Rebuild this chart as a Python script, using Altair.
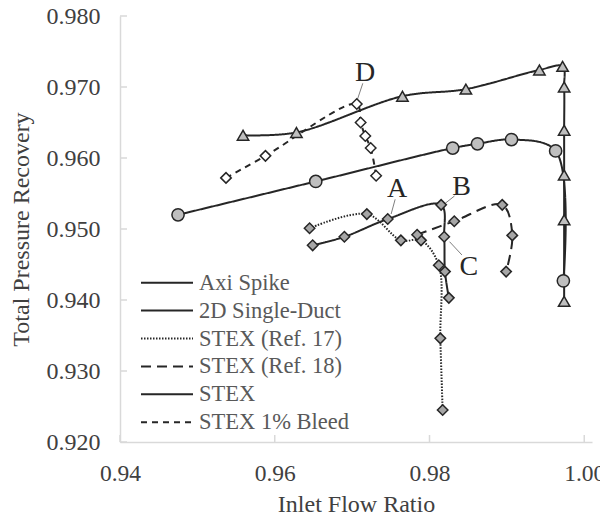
import altair as alt
import pandas as pd

SERIES = ["Axi Spike", "2D Single-Duct", "STEX (Ref. 17)", "STEX (Ref. 18)", "STEX", "STEX 1% Bleed"]

AXI_X = [0.9559, 0.9628, 0.9765, 0.9847, 0.9942, 0.9972, 0.9974, 0.9974, 0.9974, 0.9974, 0.9974]
AXI_Y = [0.9632, 0.9636, 0.9687, 0.9697, 0.9724, 0.9729, 0.9700, 0.9639, 0.9576, 0.9513, 0.9398]

DUCT_X = [0.9475, 0.9653, 0.9830, 0.9862, 0.9906, 0.9963, 0.9973]
DUCT_Y = [0.9520, 0.9567, 0.9614, 0.9620, 0.9626, 0.9610, 0.9427]

REF17_X = [0.9645, 0.9719, 0.9763, 0.9789, 0.9812, 0.9814, 0.9817]
REF17_Y = [0.9501, 0.9521, 0.9484, 0.9484, 0.9449, 0.9346, 0.9245]

REF18_X = [0.9784, 0.9832, 0.9894, 0.9907, 0.9899]
REF18_Y = [0.9492, 0.9511, 0.9534, 0.9491, 0.9440]

STEX_X = [0.9649, 0.9690, 0.9746, 0.9815, 0.9819, 0.9820, 0.9825]
STEX_Y = [0.9477, 0.9489, 0.9514, 0.9534, 0.9489, 0.9440, 0.9403]

BLEED_X = [0.9537, 0.9588, 0.9706, 0.9711, 0.9717, 0.9724, 0.9731]
BLEED_Y = [0.9572, 0.9603, 0.9676, 0.9650, 0.9631, 0.9614, 0.9575]

X_TICKS = [0.94, 0.96, 0.98, 1.00]
Y_TICKS = [0.92, 0.93, 0.94, 0.95, 0.96, 0.97, 0.98]

LABELS = ["A", "B", "C", "D"]
LABEL_X = [0.97582, 0.98416, 0.98507, 0.97168]
LABEL_Y = [0.95451, 0.95479, 0.94352, 0.97089]

LEAD_X1 = [0.97556, 0.98323, 0.98419, 0.97138]
LEAD_Y1 = [0.95418, 0.95465, 0.94634, 0.97052]
LEAD_X2 = [0.97504, 0.98203, 0.98259, 0.97069]
LEAD_Y2 = [0.95211, 0.95362, 0.94821, 0.96827]

WIDTH, HEIGHT = 472, 426
FONT = "Liberation Serif"
INK = "#262626"

# marker key (separate domain so the marker legend is kept apart from the line legend)
MK = ["m " + s for s in SERIES]

rows = []
for name, key, xs_, ys_ in [
    (SERIES[0], MK[0], AXI_X, AXI_Y),
    (SERIES[1], MK[1], DUCT_X, DUCT_Y),
    (SERIES[2], MK[2], REF17_X, REF17_Y),
    (SERIES[3], MK[3], REF18_X, REF18_Y),
    (SERIES[4], MK[4], STEX_X, STEX_Y),
    (SERIES[5], MK[5], BLEED_X, BLEED_Y),
]:
    for i, (xv, yv) in enumerate(zip(xs_, ys_)):
        rows.append({"series": name, "mk": key, "idx": i, "x": xv, "y": yv})
df = pd.DataFrame(rows)

ann = pd.DataFrame({"label": LABELS, "x": LABEL_X, "y": LABEL_Y})
lead = pd.DataFrame({"x": LEAD_X1, "y": LEAD_Y1, "x2": LEAD_X2, "y2": LEAD_Y2})
xt = pd.DataFrame({"x": X_TICKS})
yt = pd.DataFrame({"y": Y_TICKS})

FILLS = ["#bfbfbf", "#bfbfbf", "#a6a6a6", "#a6a6a6", "#a6a6a6", "#ffffff"]
DASHES = [[1, 0], [1, 0], [1.5, 1.5], [10, 6], [1, 0], [6, 5]]
SHAPES = ["triangle-up", "circle", "diamond", "diamond", "diamond", "diamond"]
SIZES = [130, 150, 110, 110, 110, 110]

xs = alt.Scale(domain=[0.94, 1.001], nice=False, zero=False)
ys = alt.Scale(domain=[0.92, 0.98], nice=False, zero=False)

X = alt.X("x:Q", scale=xs, title="Inlet Flow Ratio",
          axis=alt.Axis(values=X_TICKS, format=".2f", labelPadding=19, titlePadding=8,
                        labelFlush=False, labelFontSize=23.5))
Y = alt.Y("y:Q", scale=ys, title="Total Pressure Recovery",
          axis=alt.Axis(values=Y_TICKS, format=".3f", labelPadding=20, titlePadding=13, labelFlush=False))

LEG_Y = 255.5
COMMON = dict(title=None, orient="none", legendY=LEG_Y, labelFont=FONT, labelFontSize=22.5,
              rowPadding=4.9, padding=0, clipHeight=22.4)

# legend 1: line styles with visible labels
LINE_LEG = alt.Legend(legendX=20, symbolType="stroke", symbolSize=2704, symbolStrokeWidth=2,
                      symbolStrokeColor=INK, labelColor="#595959", labelOffset=5, **COMMON)
# legend 2: markers drawn over the middle of the line symbols (labels hidden)
MARK_LEG = alt.Legend(legendX=40, symbolSize=170, symbolStrokeWidth=1.5, symbolOpacity=1,
                      labelColor="#595959", labelOpacity=0, labelOffset=7, **COMMON)

base = alt.Chart(df)

lines = base.mark_line(interpolate="catmull-rom", strokeWidth=2, color=INK).encode(
    x=X, y=Y, detail="series:N", order="idx:Q",
    strokeDash=alt.StrokeDash("series:N", scale=alt.Scale(domain=SERIES, range=DASHES), legend=LINE_LEG),
)

points = base.mark_point(filled=True, opacity=1, strokeWidth=1.5).encode(
    x=X, y=Y,
    shape=alt.Shape("mk:N", scale=alt.Scale(domain=MK, range=SHAPES), legend=MARK_LEG),
    fill=alt.Fill("mk:N", scale=alt.Scale(domain=MK, range=FILLS), legend=MARK_LEG),
    stroke=alt.Stroke("mk:N", scale=alt.Scale(domain=MK, range=[INK] * 6), legend=MARK_LEG),
    size=alt.Size("mk:N", scale=alt.Scale(type="ordinal", domain=MK, range=SIZES), legend=None),
)

xticks = alt.Chart(xt).mark_rule(color="#d9d9d9", strokeWidth=1.5).encode(
    x=alt.X("x:Q", scale=xs), y=alt.value(HEIGHT), y2=alt.value(HEIGHT - 7))
yticks = alt.Chart(yt).mark_rule(color="#d9d9d9", strokeWidth=1.5).encode(
    y=alt.Y("y:Q", scale=ys), x=alt.value(0), x2=alt.value(7))

leaders = alt.Chart(lead).mark_rule(color="#7f7f7f", strokeWidth=1).encode(
    x=alt.X("x:Q", scale=xs), y=alt.Y("y:Q", scale=ys), x2="x2:Q", y2="y2:Q")

texts = alt.Chart(ann).mark_text(font=FONT, fontSize=28, baseline="alphabetic", align="center", color=INK).encode(
    x=alt.X("x:Q", scale=xs), y=alt.Y("y:Q", scale=ys), text="label:N")

chart = alt.layer(
    xticks, yticks, lines, leaders, points, texts
).properties(
    width=WIDTH, height=HEIGHT, autosize="none",
    padding={"left": 112, "top": 8, "right": 8, "bottom": 71},
    background="white",
).configure_view(stroke=None).configure_axis(
    labelFont=FONT, labelFontSize=24, labelColor="#404040",
    titleFont=FONT, titleFontSize=24, titleColor="#404040", titleFontWeight="normal",
    domainColor="#d9d9d9", domainWidth=1.5, ticks=False, tickSize=0, grid=False,
)

chart.save("out.html", embed_options={"renderer": "svg", "actions": False})
